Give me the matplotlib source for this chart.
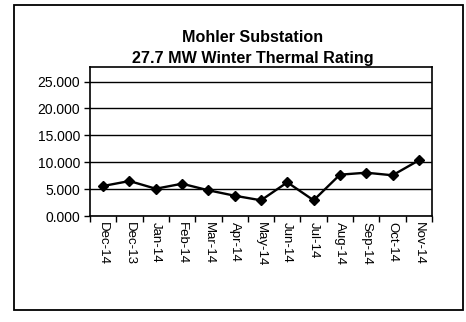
import numpy as np
import matplotlib.pyplot as plt
from matplotlib.patches import Rectangle

months = ["Dec-14", "Dec-13", "Jan-14", "Feb-14", "Mar-14", "Apr-14", "May-14",
          "Jun-14", "Jul-14", "Aug-14", "Sep-14", "Oct-14", "Nov-14"]
load_mw = [5.58, 6.50, 5.07, 6.00, 4.78, 3.77, 2.92, 6.26, 2.92, 7.68, 8.05, 7.57, 10.35]
rating_mw = 27.7
yticks = [0, 5, 10, 15, 20, 25]

plt.rcParams["font.family"] = ["Liberation Sans", "DejaVu Sans"]

W, H = 466, 322
fig = plt.figure(figsize=(W / 100, H / 100), dpi=100)

# outer chart border
fig.patches.append(Rectangle((14 / W, 1 - 310 / H), (463 - 14) / W, (310 - 5) / H,
                             transform=fig.transFigure, fill=False,
                             edgecolor="black", linewidth=1.3))

ax = fig.add_axes([90 / W, 1 - 216 / H, (432 - 90) / W, (216 - 67) / H])
x = np.arange(len(months))
ax.plot(x, load_mw, color="black", linewidth=1.7, marker="D", markersize=5)

ax.set_xlim(-0.5, len(months) - 0.5)
ax.set_ylim(0, rating_mw)
ax.set_yticks(yticks)
ax.set_yticklabels([f"{v:.3f}" for v in yticks], fontsize=10)
ax.yaxis.grid(True, color="black", linewidth=1.0)
ax.set_axisbelow(True)

ax.set_xticks(x)
ax.set_xticklabels(months, rotation=-90, fontsize=9.5)
ax.set_xticks(np.arange(len(months) + 1) - 0.5, minor=True)
ax.tick_params(axis="x", which="major", length=0, pad=4)
ax.tick_params(axis="x", which="minor", length=4, width=1, direction="out")
ax.tick_params(axis="y", length=4, width=1, direction="out", pad=3)
for s in ax.spines.values():
    s.set_linewidth(1.2)

fig.text(253 / W, 1 - 37 / H, "Mohler Substation", ha="center", va="center",
         fontsize=11.6, fontweight="bold")
fig.text(253 / W, 1 - 58 / H, "27.7 MW Winter Thermal Rating", ha="center",
         va="center", fontsize=11.6, fontweight="bold")

fig.savefig("out.png", dpi=100)
